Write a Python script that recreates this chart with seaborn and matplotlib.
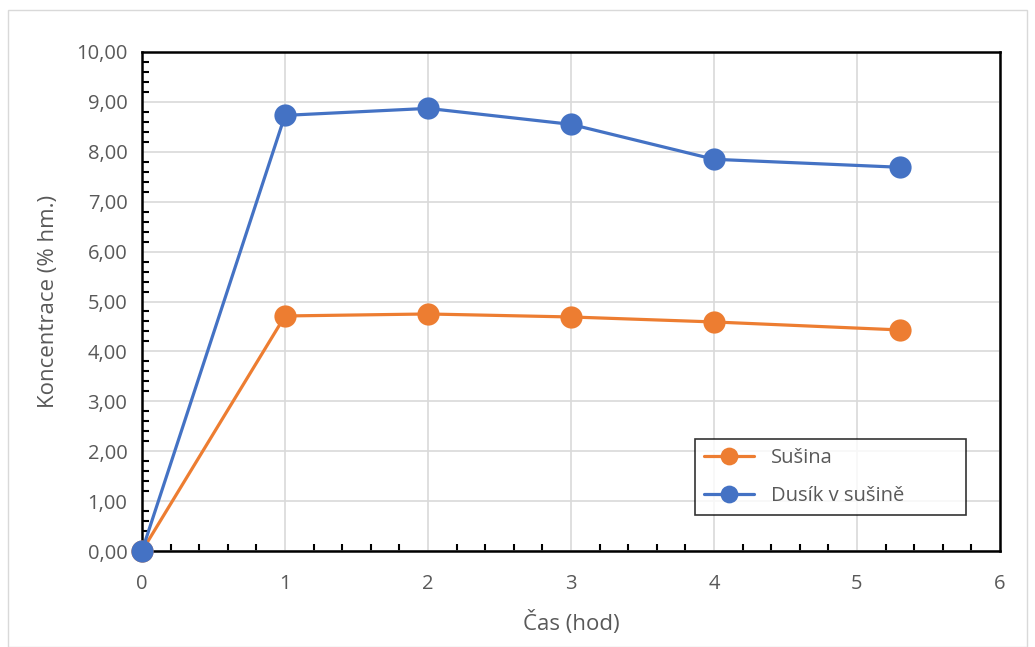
import numpy as np
import pandas as pd
import matplotlib.pyplot as plt
import seaborn as sns
from matplotlib.ticker import MultipleLocator, FuncFormatter

# hodnoty
cas = [0, 1, 2, 3, 4, 5.3]
susina = [0.0, 4.71, 4.75, 4.69, 4.59, 4.43]
dusik = [0.0, 8.73, 8.87, 8.55, 7.85, 7.69]

df = pd.DataFrame({
    'cas': cas * 2,
    'hodnota': susina + dusik,
    'serie': ['Sušina'] * len(cas) + ['Dusík v sušině'] * len(cas),
})

sns.set_style('white')
plt.rcParams['font.family'] = ['Open Sans', 'DejaVu Sans']

fig = plt.figure(figsize=(10.35, 6.47), dpi=100)
ax = fig.add_axes([142 / 1035, 1 - 551 / 647, 858 / 1035, 499 / 647])

# vnější rámeček grafu
fig.patches.append(plt.Rectangle((8 / 1035, 0), 1 - 16 / 1035, 1 - 10 / 647,
                                 transform=fig.transFigure, fill=False,
                                 edgecolor='#d9d9d9', linewidth=1))

sns.lineplot(data=df, x='cas', y='hodnota', hue='serie',
             palette={'Sušina': '#ed7d31', 'Dusík v sušině': '#4472c4'},
             marker='o', markersize=16, markeredgewidth=0, linewidth=2.3,
             ax=ax, clip_on=False, zorder=3)

ax.set_xlim(0, 6)
ax.set_ylim(0, 10)
ax.xaxis.set_major_locator(MultipleLocator(1))
ax.xaxis.set_minor_locator(MultipleLocator(0.2))
ax.yaxis.set_major_locator(MultipleLocator(1))
ax.yaxis.set_minor_locator(MultipleLocator(0.2))
ax.yaxis.set_major_formatter(FuncFormatter(lambda v, p: f'{v:.2f}'.replace('.', ',')))

ax.grid(True, which='major', color='#d9d9d9', linewidth=1.2)
ax.set_axisbelow(True)
for s in ax.spines.values():
    s.set_color('black')
    s.set_linewidth(1.8)

ax.tick_params(which='major', direction='inout', length=9, width=1.8,
               color='black', labelsize=14.5, labelcolor='#595959')
ax.tick_params(axis='y', which='major', pad=6)
ax.tick_params(axis='x', which='major', pad=12)
ax.tick_params(which='minor', direction='in', length=5, width=1.5,
               color='black', bottom=True, left=True)
ax.tick_params(axis='x', which='both', top=False)
ax.tick_params(axis='y', which='both', right=False)

ax.set_xlabel('Čas (hod)', fontsize=16, color='#595959', labelpad=12)
ax.set_ylabel('Koncentrace (% hm.)', fontsize=16, color='#595959', labelpad=12)

leg = ax.legend(title=None, loc='lower left',
                bbox_to_anchor=((695 - 142) / 858, (551 - 515) / 499,
                                (966 - 695) / 858, (515 - 437) / 499),
                mode='expand', fancybox=False, frameon=True, fontsize=14.5,
                labelcolor='#595959', borderpad=0.45, labelspacing=0.9,
                handlelength=2.5, markerscale=0.8, borderaxespad=0)
leg.get_frame().set_edgecolor('black')
leg.get_frame().set_linewidth(1.2)

fig.savefig('out.png', dpi=100)
